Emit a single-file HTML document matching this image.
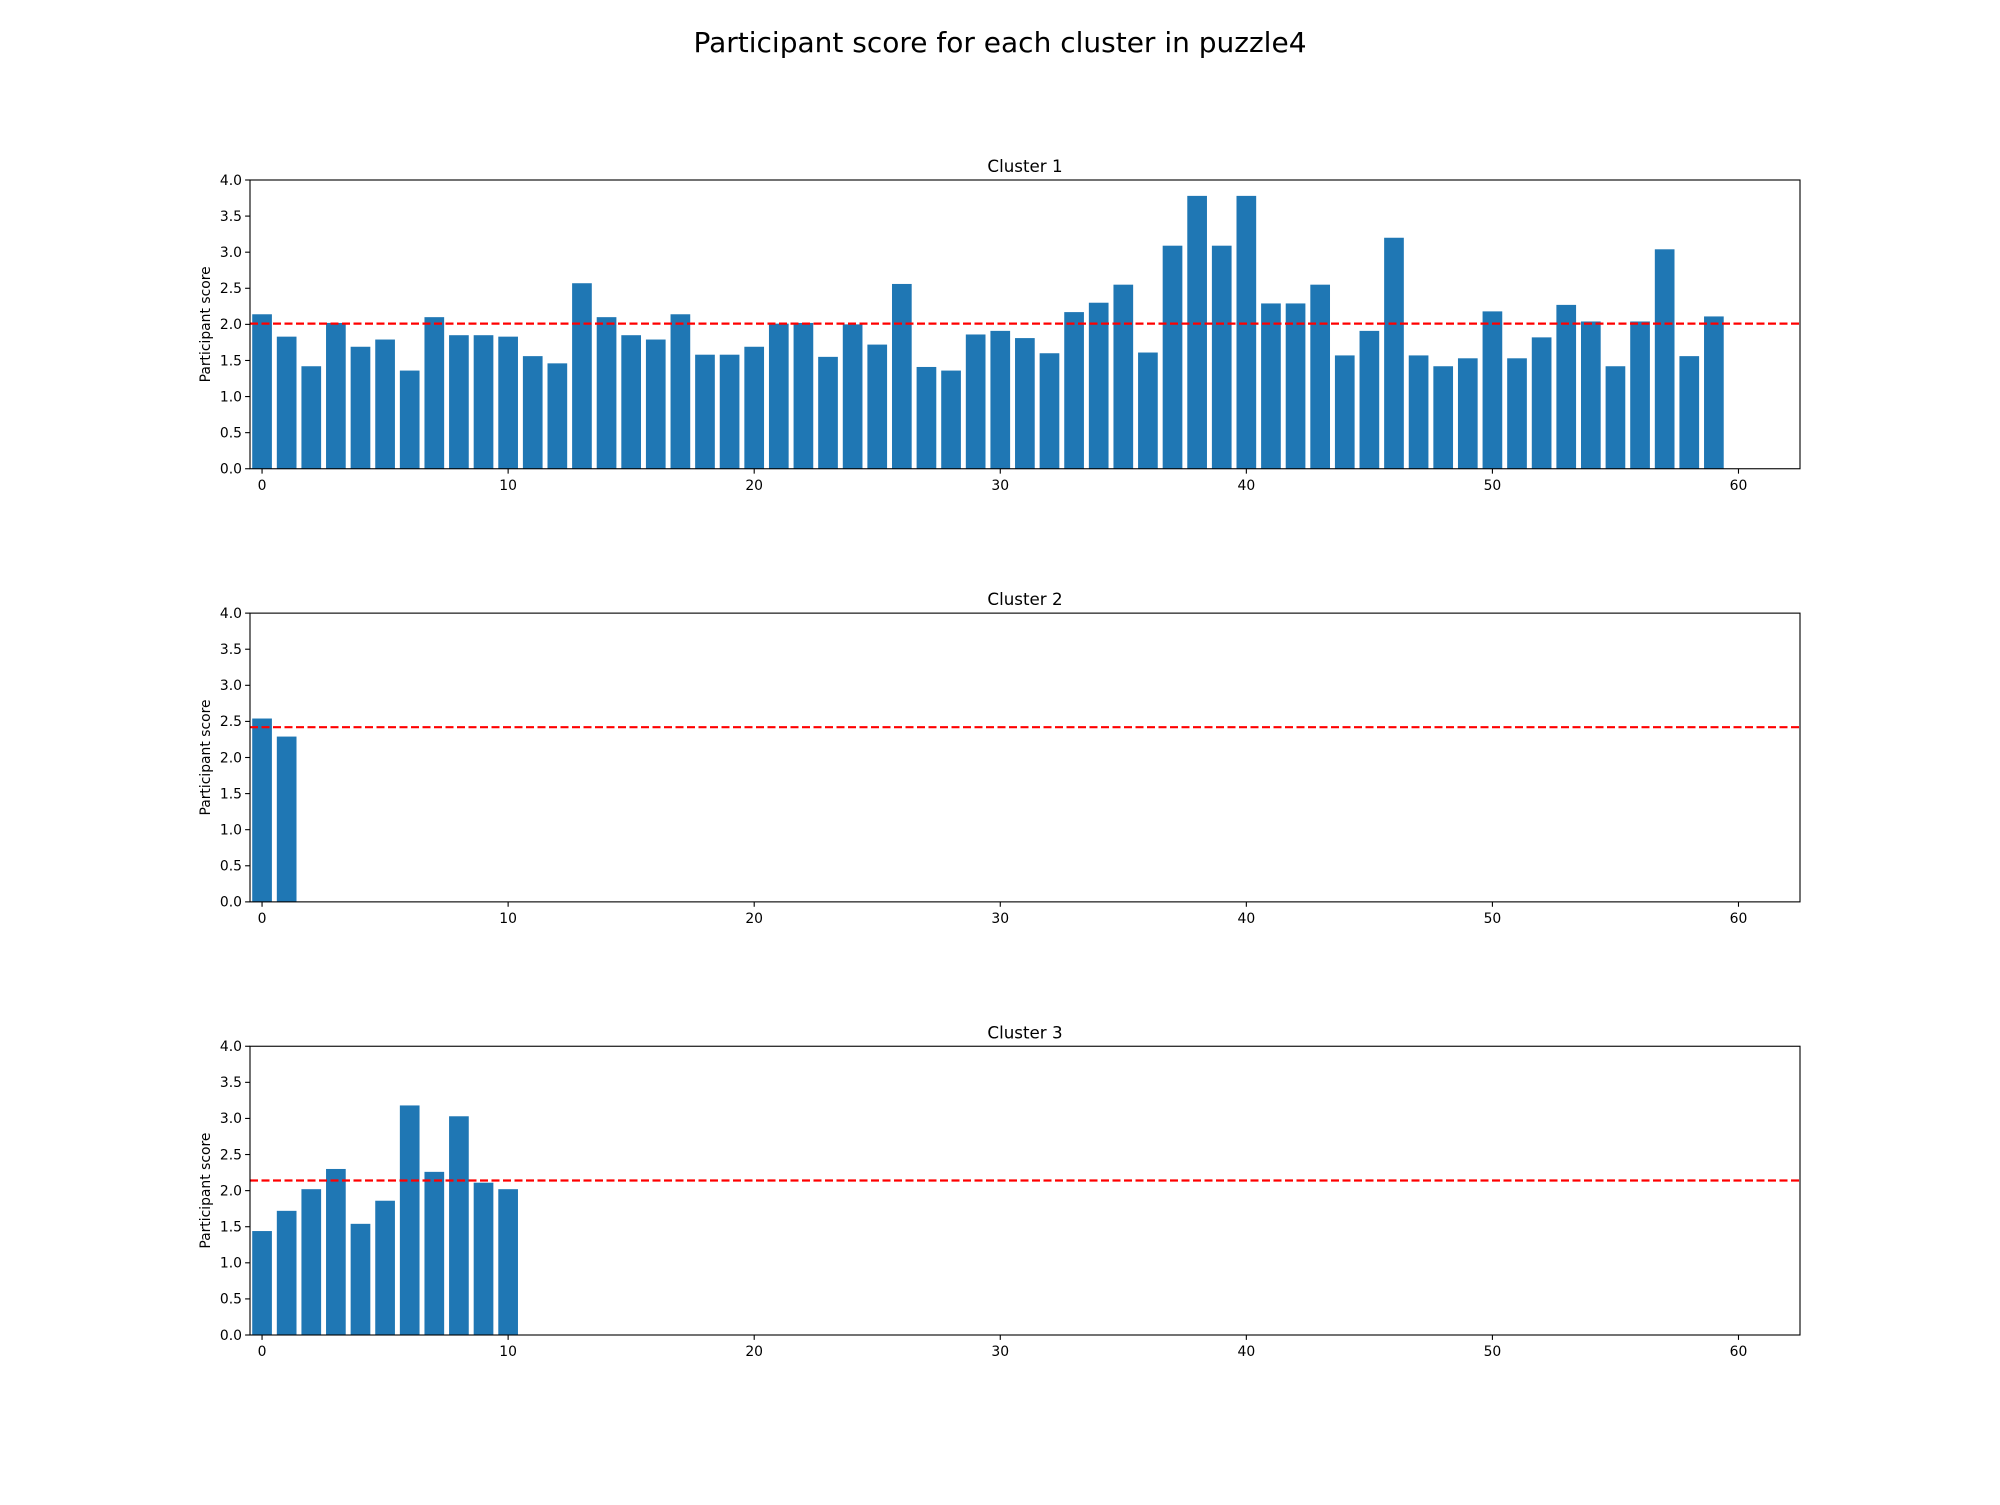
<!DOCTYPE html>
<html><head><meta charset="utf-8"><style>
body{margin:0;background:#fff;}
svg text{font-family:"DejaVu Sans","Liberation Sans",sans-serif;fill:#000;}
</style></head><body>
<svg id="fig" width="2000" height="1500" xmlns="http://www.w3.org/2000/svg">
<rect width="2000" height="1500" fill="#fff"/>
<text x="1000" y="52" font-size="28" text-anchor="middle">Participant score for each cluster in puzzle4</text>
</svg>
<script>
const cluster1Scores=[2.14,1.83,1.42,2.02,1.69,1.79,1.36,2.10,1.85,1.85,1.83,1.56,1.46,2.57,2.10,1.85,1.79,2.14,1.58,1.58,1.69,2.01,2.02,1.55,2.0,1.72,2.56,1.41,1.36,1.86,1.91,1.81,1.60,2.17,2.30,2.55,1.61,3.09,3.78,3.09,3.78,2.29,2.29,2.55,1.57,1.91,3.20,1.57,1.42,1.53,2.18,1.53,1.82,2.27,2.04,1.42,2.04,3.04,1.56,2.11];
const cluster2Scores=[2.54,2.29];
const cluster3Scores=[1.44,1.72,2.02,2.30,1.54,1.86,3.18,2.26,3.03,2.11,2.02];
const clusterMeans=[2.01,2.42,2.14];
const clusterTitles=["Cluster 1","Cluster 2","Cluster 3"];
const yTicks=[0,0.5,1,1.5,2,2.5,3,3.5,4];
const xTicks=[0,10,20,30,40,50,60];

const NS="http://www.w3.org/2000/svg";
const svg=document.getElementById('fig');
const L=250,R=1800,H=288.75,xmin=-0.49,xmax=62.5,ymax=4;
const tops=[180,613.125,1046.25];
const series=[cluster1Scores,cluster2Scores,cluster3Scores];
function mk(tag,attrs,parent){const e=document.createElementNS(NS,tag);for(const k in attrs)e.setAttribute(k,attrs[k]);(parent||svg).appendChild(e);return e;}
const xs=v=>L+(v-xmin)/(xmax-xmin)*(R-L);
series.forEach((data,p)=>{
  const T=tops[p],B=T+H;
  const ys=v=>B-v/ymax*H;
  const g=mk('g',{});
  
  
  data.forEach((v,i)=>{
    const r=mk('rect',{x:xs(i-0.4),y:ys(v),width:xs(i+0.4)-xs(i-0.4),height:B-ys(v),fill:'#1f77b4'},g);
    
    
  });
  const m=mk('line',{x1:L,x2:R,y1:ys(clusterMeans[p]),y2:ys(clusterMeans[p]),stroke:'#ff0000','stroke-width':2.2,'stroke-dasharray':'8,3.5'},g);
  
  
  const fr=mk('rect',{x:L,y:T,width:R-L,height:H,fill:'none',stroke:'#000','stroke-width':1.1},g);
  
  
  yTicks.forEach(t=>{
    mk('line',{x1:L-4.9,x2:L,y1:ys(t),y2:ys(t),stroke:'#000','stroke-width':1.1},g);
    const tx=mk('text',{x:L-8,y:ys(t)+4.8,'font-size':13.9,'text-anchor':'end'},g);
    tx.textContent=t.toFixed(1);
    
    
  });
  xTicks.forEach(t=>{
    mk('line',{x1:xs(t),x2:xs(t),y1:B,y2:B+4.9,stroke:'#000','stroke-width':1.1},g);
    const tx=mk('text',{x:xs(t),y:B+21,'font-size':13.9,'text-anchor':'middle'},g);
    tx.textContent=t;
    
    
  });
  const yl=mk('text',{x:0,y:0,'font-size':13.9,'text-anchor':'middle',transform:'translate(210,'+(T+H/2)+') rotate(-90)'},g);
  yl.textContent='Participant score';
  
  
  const tt=mk('text',{x:(L+R)/2,y:T-8,'font-size':16.7,'text-anchor':'middle'},g);
  tt.textContent=clusterTitles[p];
  
  
});
</script>
</body></html>
